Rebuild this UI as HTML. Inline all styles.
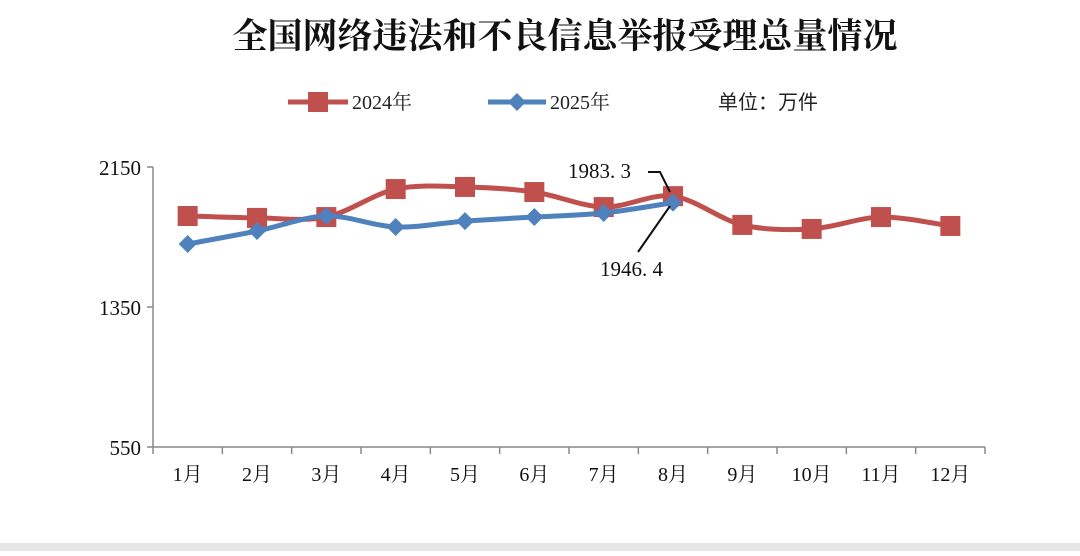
<!DOCTYPE html>
<html><head><meta charset="utf-8"><style>
html,body{margin:0;padding:0;background:#fff;}
body{width:1080px;height:551px;overflow:hidden;position:relative;font-family:"Liberation Serif","Noto Serif CJK SC",serif;}
</style></head><body>
<svg id="chart" width="1080" height="551" viewBox="0 0 1080 551" xmlns="http://www.w3.org/2000/svg">
<rect x="0" y="0" width="1080" height="551" fill="#fff"/>
<text x="565" y="48" text-anchor="middle" font-size="35" font-family="Noto Serif CJK SC, serif" font-weight="bold" fill="#111">全国网络违法和不良信息举报受理总量情况</text>
<g>
<g>
<line x1="288" y1="102" x2="348" y2="102" stroke="#c0504d" stroke-width="5"/>
<rect x="308" y="92" width="20" height="20" fill="#c0504d"/>
<text x="352" y="109" font-size="20" fill="#222">2024年</text></g>
<g>
<line x1="488" y1="102" x2="546" y2="102" stroke="#4f81bd" stroke-width="5"/>
<polygon points="517,93 526,102 517,111 508,102" fill="#4f81bd"/>
<text x="550" y="109" font-size="20" fill="#222">2025年</text></g>
<text x="718" y="109" font-size="20" font-family="Noto Sans CJK SC, sans-serif" fill="#222">单位：万件</text>
</g>
<g id="axes"></g>
<g id="series"></g>
<g>
<text x="568" y="178" font-size="21" fill="#111">1983. 3</text>
<polyline points="648,172 660,172 670,192" fill="none" stroke="#111" stroke-width="2"/>
<text x="600" y="276" font-size="21" fill="#111">1946. 4</text>
<line x1="638" y1="252" x2="670" y2="206" stroke="#111" stroke-width="2"/>
</g>
<rect x="0" y="543" width="1080" height="8" fill="#e6e6e6"/>
</svg>
<script>
const categories=["1月","2月","3月","4月","5月","6月","7月","8月","9月","10月","11月","12月"];
const values2024=[1870,1859,1864,2024,2036,2007,1921,1983.3,1819,1796,1864,1813];
const values2025=[1710,1784,1870,1807,1841,1864,1887,1946.4];
const yTicks=[550,1350,2150];
const NS="http://www.w3.org/2000/svg";
const x0=153,x1=985,yTop=167,yBot=447,yMin=550,yMax=2150;
const step=(x1-x0)/categories.length;
function xs(i){return x0+step*(i+0.5);}
function ys(v){return yBot-(v-yMin)/(yMax-yMin)*(yBot-yTop);}
function mk(t,a,p){const e=document.createElementNS(NS,t);for(const k in a)e.setAttribute(k,a[k]);(p||document.getElementById('axes')).appendChild(e);return e;}
let e=mk('line',{x1:x0,y1:yTop,x2:x0,y2:yBot,stroke:'#888','stroke-width':1.5});


e=mk('line',{x1:x0,y1:yBot,x2:x1,y2:yBot,stroke:'#888','stroke-width':1.5});


yTicks.forEach(t=>{const y=ys(t);
mk('line',{x1:x0-6,y1:y,x2:x0,y2:y,stroke:'#888','stroke-width':1.5});
const tx=mk('text',{x:x0-12,y:y+8,'text-anchor':'end','font-size':21,fill:'#111'});tx.textContent=t;

});
for(let i=0;i<=categories.length;i++){const x=x0+step*i;mk('line',{x1:x,y1:yBot,x2:x,y2:yBot+7,stroke:'#888','stroke-width':1.5});}
categories.forEach((c,i)=>{const tx=mk('text',{x:xs(i),y:yBot+34,'text-anchor':'middle','font-size':20,fill:'#111'});tx.textContent=c;

});
function smooth(pts){let d=`M${pts[0][0]},${pts[0][1]}`;for(let i=0;i<pts.length-1;i++){const p0=pts[i-1]||pts[i],p1=pts[i],p2=pts[i+1],p3=pts[i+2]||p2;const t=0.16;
d+=` C${p1[0]+(p2[0]-p0[0])*t},${p1[1]+(p2[1]-p0[1])*t} ${p2[0]-(p3[0]-p1[0])*t},${p2[1]-(p3[1]-p1[1])*t} ${p2[0]},${p2[1]}`;}return d;}
const sg=document.getElementById('series');
const p24=values2024.map((v,i)=>[xs(i),ys(v)]);
const p25=values2025.map((v,i)=>[xs(i),ys(v)]);
e=mk('path',{d:smooth(p24),fill:'none',stroke:'#c0504d','stroke-width':5},sg);


p24.forEach(p=>{const r=mk('rect',{x:p[0]-10,y:p[1]-10,width:20,height:20,fill:'#c0504d'},sg);

});
e=mk('path',{d:smooth(p25),fill:'none',stroke:'#4f81bd','stroke-width':5},sg);


p25.forEach(p=>{const r=mk('polygon',{points:`${p[0]},${p[1]-9} ${p[0]+9},${p[1]} ${p[0]},${p[1]+9} ${p[0]-9},${p[1]}`,fill:'#4f81bd'},sg);

});
</script>
</body></html>
